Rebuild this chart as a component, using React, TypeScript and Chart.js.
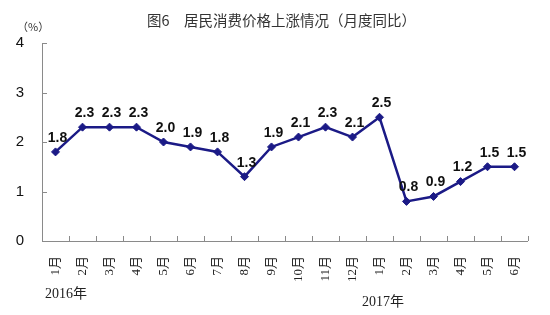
import React, { useEffect, useRef } from "react";
import { Chart, registerables } from "chart.js";

Chart.register(...registerables);

const months = ["1月", "2月", "3月", "4月", "5月", "6月", "7月", "8月", "9月", "10月", "11月", "12月", "1月", "2月", "3月", "4月", "5月", "6月"];
const cpiYoY = [1.8, 2.3, 2.3, 2.3, 2.0, 1.9, 1.8, 1.3, 1.9, 2.1, 2.3, 2.1, 2.5, 0.8, 0.9, 1.2, 1.5, 1.5];
const yTicks = [0, 1, 2, 3, 4];
const yearLabels = ["2016年", "2017年"];
const titleText = "图6　居民消费价格上涨情况（月度同比）";
const unitText = "（%）";

const NAVY = "#1b1a86";
const AXIS = "#8a8a8a";

const overlayPlugin = {
  id: "overlay",
  afterDraw(chart: any) {
    const ctx = chart.ctx;
    const area = chart.chartArea;
    const x = chart.scales.x;
    const y = chart.scales.y;
    ctx.save();
    // axes
    ctx.strokeStyle = AXIS;
    ctx.lineWidth = 1;
    ctx.beginPath();
    ctx.moveTo(area.left + 0.5, area.top);
    ctx.lineTo(area.left + 0.5, area.bottom + 0.5);
    ctx.lineTo(area.right, area.bottom + 0.5);
    ctx.stroke();
    // y inward ticks
    ctx.beginPath();
    yTicks.forEach((v) => {
      const py = Math.round(y.getPixelForValue(v)) + 0.5;
      ctx.moveTo(area.left, py);
      ctx.lineTo(area.left + 5, py);
    });
    // x inward ticks at category boundaries
    const n = months.length;
    for (let i = 1; i <= n; i++) {
      const px = (x.getPixelForValue(i - 1) + x.getPixelForValue(Math.min(i, n - 1))) / 2;
      const bx = i === n ? area.right : px;
      ctx.moveTo(Math.round(bx) + 0.5, area.bottom);
      ctx.lineTo(Math.round(bx) + 0.5, area.bottom - 5);
    }
    ctx.stroke();

    // data labels
    const meta = chart.getDatasetMeta(0);
    ctx.fillStyle = "#111";
    ctx.font = "bold 14px 'Liberation Sans', Arial, sans-serif";
    ctx.textAlign = "center";
    ctx.textBaseline = "middle";
    meta.data.forEach((pt: any, i: number) => {
      ctx.fillText(cpiYoY[i].toFixed(1), pt.x + 2, pt.y - 14);
    });

    // title
    ctx.fillStyle = "#333";
    ctx.font = "14.5px 'Noto Sans CJK SC', sans-serif";
    ctx.textAlign = "left";
    ctx.textBaseline = "middle";
    ctx.fillText(titleText, 147, 20);

    // unit
    ctx.fillStyle = "#333";
    ctx.font = "11px 'Noto Sans CJK SC', sans-serif";
    ctx.fillText(unitText, 17, 27);

    // year labels
    ctx.fillStyle = "#222";
    ctx.font = "14px 'Liberation Serif', 'Noto Sans CJK SC', serif";
    ctx.textAlign = "left";
    ctx.fillText(yearLabels[0], 45, 294);
    ctx.fillText(yearLabels[1], 362, 302);
    ctx.restore();
  },
};

export default function App() {
  const ref = useRef<HTMLCanvasElement>(null);
  useEffect(() => {
    const chart = new Chart(ref.current!, {
      type: "line",
      data: {
        labels: months,
        datasets: [
          {
            data: cpiYoY,
            borderColor: NAVY,
            backgroundColor: NAVY,
            borderWidth: 2.5,
            pointStyle: "rectRot",
            pointRadius: 4,
            pointBorderWidth: 1,
            tension: 0,
          },
        ],
      },
      options: {
        animation: false,
        responsive: false,
        layout: { padding: { top: 43, right: 22, left: 0, bottom: 0 } },
        plugins: { legend: { display: false }, tooltip: { enabled: false }, title: { display: false } },
        scales: {
          x: {
            offset: true,
            grid: { display: false, drawTicks: false },
            border: { display: false },
            ticks: {
              autoSkip: false,
              minRotation: 90,
              maxRotation: 90,
              padding: 15,
              color: "#222",
              font: { size: 13, family: "'Liberation Serif', 'Noto Sans CJK SC', serif" },
            },
            afterFit: (s: any) => {
              s.height = 74;
            },
          },
          y: {
            min: 0,
            max: 4,
            grid: { display: false, drawTicks: false },
            border: { display: false },
            ticks: {
              stepSize: 1,
              padding: 18,
              color: "#111",
              font: { size: 15, family: "'Liberation Sans', Arial, sans-serif" },
            },
            afterFit: (s: any) => {
              s.width = 42;
            },
          },
        },
      },
      plugins: [overlayPlugin],
    });
    return () => chart.destroy();
  }, []);
  return (
    <div style={{ position: "absolute", left: 0, top: 0, width: 550, height: 315, background: "#fff" }}>
      <canvas ref={ref} width={550} height={315} style={{ display: "block" }} />
    </div>
  );
}
